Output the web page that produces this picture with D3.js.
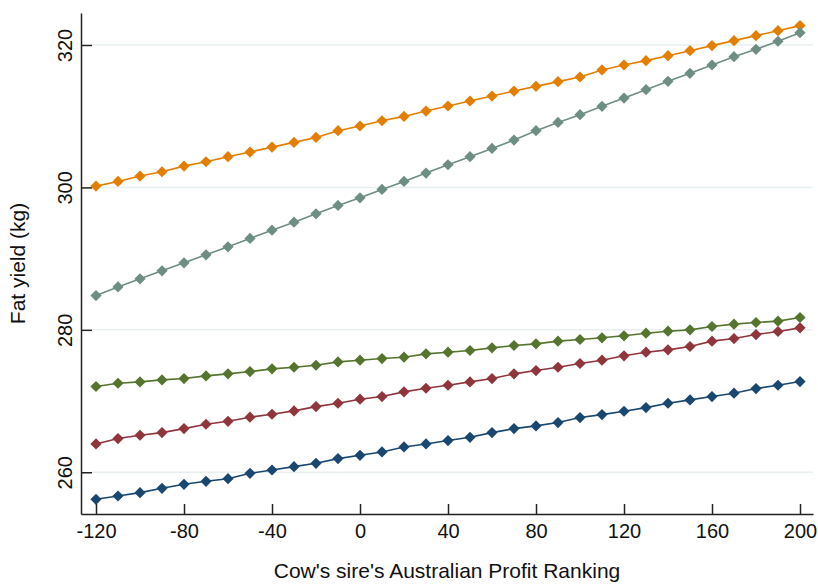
<!DOCTYPE html>
<html><head><meta charset="utf-8">
<script src="https://cdn.jsdelivr.net/npm/d3@7/dist/d3.min.js"></script>
<style>body{margin:0;background:#fff;}svg{display:block;font-family:"Liberation Sans",Arial,sans-serif;}</style>
</head><body>
<script>
const xValues = [-120,-110,-100,-90,-80,-70,-60,-50,-40,-30,-20,-10,0,10,20,30,40,50,60,70,80,90,100,110,120,130,140,150,160,170,180,190,200];
const seriesNames = ["s1","s2","s3","s4","s5"];
const seriesColors = ["#1a476f","#90353b","#55752f","#e37e00","#6e8e84"];
const blueValues = [256.20,256.67,257.14,257.75,258.31,258.73,259.10,259.85,260.32,260.79,261.26,261.92,262.38,262.85,263.56,263.98,264.45,264.91,265.57,266.13,266.51,266.98,267.68,268.10,268.57,269.08,269.69,270.16,270.63,271.10,271.75,272.22,272.74];
const redValues = [263.98,264.73,265.20,265.57,266.13,266.74,267.16,267.73,268.15,268.62,269.22,269.69,270.26,270.63,271.29,271.80,272.22,272.69,273.16,273.82,274.28,274.75,275.27,275.74,276.35,276.86,277.19,277.66,278.41,278.78,279.34,279.77,280.28];
const greenValues = [272.04,272.50,272.69,272.97,273.16,273.53,273.82,274.14,274.52,274.75,275.03,275.50,275.74,275.97,276.16,276.63,276.86,277.10,277.47,277.80,278.03,278.41,278.64,278.88,279.16,279.53,279.81,280.00,280.47,280.80,281.03,281.22,281.73];
const orangeValues = [300.18,300.84,301.59,302.20,302.99,303.60,304.31,304.96,305.66,306.32,307.02,307.96,308.62,309.36,309.97,310.72,311.43,312.13,312.83,313.53,314.19,314.85,315.50,316.49,317.19,317.80,318.50,319.20,319.91,320.61,321.31,322.01,322.72];
const tealValues = [284.81,286.03,287.16,288.28,289.41,290.53,291.66,292.83,294.00,295.12,296.29,297.47,298.54,299.71,300.84,302.01,303.18,304.31,305.48,306.65,307.96,309.13,310.21,311.38,312.55,313.72,314.89,316.02,317.19,318.36,319.39,320.52,321.73];
const xTicks = [-120,-80,-40,0,40,80,120,160,200];
const yTicks = [260,280,300,320];
const xTitle = "Cow's sire's Australian Profit Ranking";
const yTitle = "Fat yield (kg)";

const allSeries = [blueValues, redValues, greenValues, orangeValues, tealValues];

const W = 818, H = 585;
const L = 81, R = 813, T = 13, B = 514;
const svg = d3.select("body").append("svg").attr("width", W).attr("height", H);

const x = d3.scaleLinear().domain([-126.82, 205.91]).range([L, R]);
const y = d3.scaleLinear().domain([254.14, 324.49]).range([B, T]);

// gridlines
svg.append("g").selectAll("line").data(yTicks).join("line")
  .attr("x1", L + 11).attr("x2", R)
  .attr("y1", d => y(d)).attr("y2", d => y(d))
  .attr("stroke", "#e8eff1").attr("stroke-width", 1.5);

// series
const line = d3.line().x((d,i) => x(xValues[i])).y(d => y(d));
const diamond = "M0,-5.6L5.6,0L0,5.6L-5.6,0Z";
allSeries.forEach((vals, k) => {
  const g = svg.append("g");
  g.append("path").datum(vals).attr("d", line)
    .attr("fill", "none").attr("stroke", seriesColors[k]).attr("stroke-width", 1.6);
  g.selectAll("path.m").data(vals).join("path").attr("class","m")
    .attr("d", diamond)
    .attr("transform", (d,i) => `translate(${x(xValues[i])},${y(d)})`)
    .attr("fill", seriesColors[k]);
});

// axes
const axisColor = "#222";
const xa = svg.append("g").attr("transform", `translate(0,${B})`)
  .call(d3.axisBottom(x).tickValues(xTicks).tickSizeInner(-10).tickSizeOuter(0).tickFormat(d3.format("d")));
xa.select(".domain").attr("stroke", axisColor).attr("stroke-width", 1.5);
xa.selectAll(".tick line").attr("stroke", axisColor).attr("stroke-width", 1.5);
xa.selectAll(".tick text").attr("font-size", 20).attr("fill", "#111").attr("font-family", "Liberation Sans, Arial, sans-serif")
  .attr("y", 24).attr("dy", 0)
  .text(d => d < 0 ? "-" + Math.abs(d) : d);

const ya = svg.append("g").attr("transform", `translate(${L},0)`)
  .call(d3.axisLeft(y).tickValues(yTicks).tickSizeInner(-11).tickSizeOuter(0).tickFormat(d3.format("d")));
ya.select(".domain").attr("stroke", axisColor).attr("stroke-width", 1.5);
ya.selectAll(".tick line").attr("stroke", axisColor).attr("stroke-width", 1.5);
ya.selectAll(".tick text").remove();
ya.selectAll(".tick").append("text")
  .attr("transform", "translate(-9,0) rotate(-90)")
  .attr("text-anchor", "middle").attr("dy", 0)
  .attr("font-size", 20).attr("fill", "#111").attr("font-family", "Liberation Sans, Arial, sans-serif")
  .text(d => d);

// titles
svg.append("text").attr("x", (L + R) / 2).attr("y", 578).attr("text-anchor", "middle")
  .attr("font-size", 21).attr("fill", "#111").text(xTitle);
svg.append("text").attr("transform", `translate(25,${(T + B) / 2}) rotate(-90)`).attr("text-anchor", "middle")
  .attr("font-size", 21).attr("fill", "#111").text(yTitle);
</script>
</body></html>
